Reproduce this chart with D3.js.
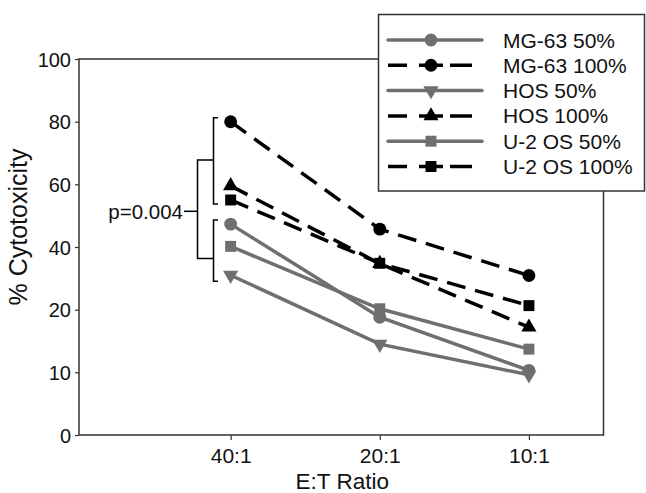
<!DOCTYPE html>
<html><head><meta charset="utf-8">
<script src="https://cdn.jsdelivr.net/npm/d3@7"></script>
<style>body{margin:0;background:#fff}svg{display:block;font-family:"Liberation Sans",Arial,sans-serif}</style>
</head><body><svg id="c" width="646" height="493"></svg>
<script>
const categories = ["40:1", "20:1", "10:1"];
const yTicks = [0, 10, 20, 40, 60, 80, 100];
const seriesNames = ["MG-63 50%", "MG-63 100%", "HOS 50%", "HOS 100%", "U-2 OS 50%", "U-2 OS 100%"];
const mg63_50 = [47.3, 18.8, 10.3];
const mg63_100 = [80, 45.7, 30.9];
const hos_50 = [31, 14.5, 9.6];
const hos_100 = [59.5, 34.7, 17.2];
const u2os_50 = [40.2, 20.3, 13.7];
const u2os_100 = [55, 34.8, 21.3];
const pLabel = "p=0.004";
const xTitle = "E:T Ratio";
const yTitle = "% Cytotoxicity";

const GREY = "#6f6f6f", BLACK = "#000";
const series = [
  {name: seriesNames[0], values: mg63_50, color: GREY, dash: null, sym: d3.symbolCircle, rot: 0},
  {name: seriesNames[1], values: mg63_100, color: BLACK, dash: "19,10", sym: d3.symbolCircle, rot: 0},
  {name: seriesNames[2], values: hos_50, color: GREY, dash: null, sym: d3.symbolTriangle, rot: 180},
  {name: seriesNames[3], values: hos_100, color: BLACK, dash: "19,10", sym: d3.symbolTriangle, rot: 0},
  {name: seriesNames[4], values: u2os_50, color: GREY, dash: null, sym: d3.symbolSquare, rot: 0},
  {name: seriesNames[5], values: u2os_100, color: BLACK, dash: "19,10", sym: d3.symbolSquare, rot: 0}
];
const symSize = s => s === d3.symbolCircle ? 130 : (s === d3.symbolSquare ? 120 : 100);

const svg = d3.select("#c");
const L = 79, R = 603.5, T = 59, B = 435;
const x = d3.scaleLinear().domain([0, 3.5]).range([81.5, 603.5]);
const y = d3.scaleLinear().domain(yTicks).range([435, 372.3, 309.7, 247, 184.3, 121.7, 59]);
const FONT = "Liberation Sans, Arial, sans-serif";

// frame
svg.append("rect").attr("x", L).attr("y", T).attr("width", R - L).attr("height", B - T)
  .attr("fill", "none").attr("stroke", "#333").attr("stroke-width", 1.5);

const ya = svg.append("g").attr("transform", `translate(${L},0)`)
  .call(d3.axisLeft(y).tickValues(yTicks).tickSizeOuter(0).tickSize(4).tickPadding(4));
ya.selectAll("text").attr("font-size", 20).attr("fill", "#111").attr("font-family", FONT).attr("dy", "0.36em");
ya.selectAll("line").attr("stroke", "#333").attr("stroke-width", 1.2);
ya.select(".domain").remove();

const xa = svg.append("g").attr("transform", `translate(0,${B})`)
  .call(d3.axisBottom(x).tickValues([1, 2, 3]).tickFormat((d, i) => categories[i]).tickSizeOuter(0).tickSize(5).tickPadding(8));
xa.selectAll("text").attr("font-size", 21).attr("fill", "#111").attr("font-family", FONT);
xa.selectAll("line").attr("stroke", "#333").attr("stroke-width", 1.2);
xa.select(".domain").remove();

svg.append("text").attr("x", (L + R) / 2 + 1).attr("y", 489).attr("text-anchor", "middle")
  .attr("font-size", 22.5).attr("fill", "#111").text(xTitle);
svg.append("text").attr("transform", "translate(27,227) rotate(-90)").attr("text-anchor", "middle")
  .attr("font-size", 25).attr("fill", "#111").text(yTitle);

// brackets
const bk = svg.append("g").attr("fill", "none").attr("stroke", "#000").attr("stroke-width", 1.5);
const bx = 213.5, bx2 = 218, bx0 = 197.5;
const upTop = y(mg63_100[0]) - 4, upBot = y(u2os_100[0]) + 4;
const loTop = y(mg63_50[0]) - 4, loBot = y(hos_50[0]) + 6;
bk.append("path").attr("d", `M${bx2},${upTop}H${bx}V${upBot}H${bx2}`);
bk.append("path").attr("d", `M${bx2},${loTop}H${bx}V${loBot}H${bx2}`);
const upMid = upTop + (upBot - upTop) * 0.49, loMid = loTop + (loBot - loTop) * 0.63;
bk.append("path").attr("d", `M${bx},${upMid}H${bx0}V${loMid}H${bx}`);
const pMid = (upMid + loMid) / 2 + 2;
bk.append("path").attr("d", `M${bx0},${pMid}H${184}`);
svg.append("text").attr("x", 183).attr("y", pMid + 7.5).attr("text-anchor", "end")
  .attr("font-size", 20.5).attr("fill", "#111").text(pLabel);

// lines
const line = d3.line().x((d, i) => x(i + 1)).y(d => y(d));
const order = [0, 2, 4, 1, 3, 5];
order.forEach(k => {
  const s = series[k];
  const g = svg.append("g");
  g.append("path").attr("d", line(s.values)).attr("fill", "none").attr("stroke", s.color)
    .attr("stroke-width", 3.5).attr("stroke-dasharray", s.dash);
  g.selectAll("path.m").data(s.values).join("path").attr("class", "m")
    .attr("d", d3.symbol().type(s.sym).size(symSize(s.sym)))
    .attr("transform", (d, i) => `translate(${x(i + 1)},${y(d)}) rotate(${s.rot})`)
    .attr("fill", s.color);
});

// legend
const lg = svg.append("g");
lg.append("rect").attr("x", 378.5).attr("y", 14.5).attr("width", 266).attr("height", 176.5)
  .attr("fill", "#fff").attr("stroke", "#333").attr("stroke-width", 1.5);
series.forEach((s, i) => {
  const cy = 40 + i * 25.3;
  if (s.dash) {
    lg.append("path").attr("d", `M388,${cy}H407M419,${cy}H443M450,${cy}H472`).attr("stroke", s.color).attr("stroke-width", 3.5);
  } else {
    lg.append("path").attr("d", `M388,${cy}H482`).attr("stroke", s.color).attr("stroke-width", 3.5).attr("stroke-linecap", "round");
  }
  lg.append("path").attr("d", d3.symbol().type(s.sym).size(symSize(s.sym))())
    .attr("transform", `translate(431,${cy}) rotate(${s.rot})`).attr("fill", s.color);
  lg.append("text").attr("x", 503).attr("y", cy + 7.5).attr("font-size", 21).attr("fill", "#111").text(s.name);
});
</script></body></html>
